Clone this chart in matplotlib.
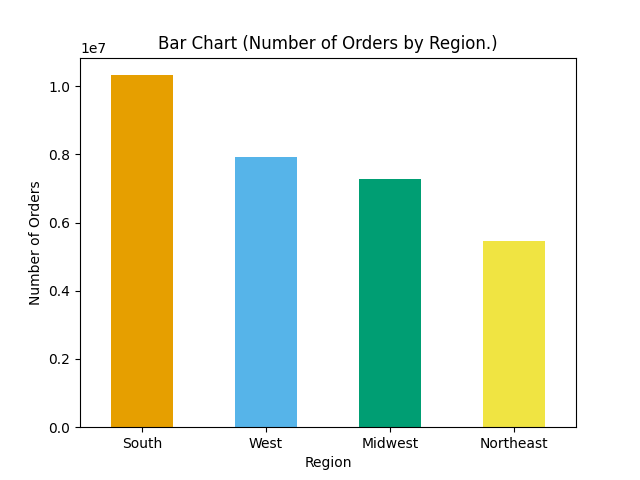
import matplotlib
matplotlib.use("Agg")
import matplotlib.pyplot as plt

regions = ["South", "West", "Midwest", "Northeast"]
orders = [1.032e7, 0.792e7, 0.727e7, 0.545e7]
colors = ["#E69F00", "#56B4E9", "#009E73", "#F0E442"]

fig, ax = plt.subplots(figsize=(6.4, 4.8), dpi=100)
ax.bar(range(len(regions)), orders, width=0.5, color=colors)
ax.set_xticks(range(len(regions)))
ax.set_xticklabels(regions, rotation=0)
ax.set_xlim(-0.5, len(regions) - 0.5)
ax.set_xlabel("Region")
ax.set_ylabel("Number of Orders")
ax.set_title("Bar Chart (Number of Orders by Region.)")
fig.savefig("out.png")
